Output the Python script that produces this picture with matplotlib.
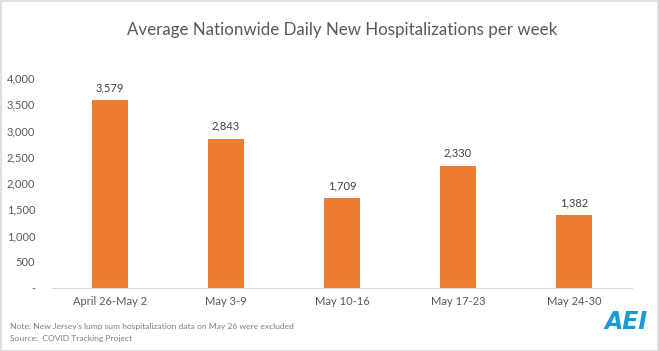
import matplotlib.pyplot as plt
from matplotlib.patches import Rectangle
from matplotlib.ticker import FuncFormatter

# 数据
weeks = ['April 26-May 2', 'May 3-9', 'May 10-16', 'May 17-23', 'May 24-30']
hospitalizations = [3579, 2843, 1709, 2330, 1382]
y_ticks = [0, 500, 1000, 1500, 2000, 2500, 3000, 3500, 4000]

plt.rcParams['font.family'] = ['Lato', 'DejaVu Sans']

W, H = 659, 351
fig = plt.figure(figsize=(W / 100, H / 100), dpi=100)

# 坐标轴位置（像素换算成比例）
left, right, bottom, top = 52, 632, 288, 78
ax = fig.add_axes([left / W, 1 - bottom / H, (right - left) / W, (bottom - top) / H])

x = range(len(weeks))
bars = ax.bar(x, hospitalizations, width=0.31, color='#ED7D31')

for xi, v in zip(x, hospitalizations):
    ax.annotate(f'{v:,}', (xi, v), xytext=(0, 5), textcoords='offset points',
                ha='center', va='bottom', fontsize=8, color='#404040')

ax.set_xlim(-0.5, len(weeks) - 0.5)
ax.set_ylim(0, 4000)
ax.set_yticks(y_ticks)
ax.yaxis.set_major_formatter(FuncFormatter(lambda v, p: '-' if v == 0 else f'{int(v):,}'))
ax.set_xticks(list(x))
ax.set_xticklabels(weeks)
ax.tick_params(axis='both', length=0, labelsize=8, colors='#595959')
ax.tick_params(axis='y', pad=12)
ax.tick_params(axis='x', pad=6)

for s in ['top', 'right', 'left']:
    ax.spines[s].set_visible(False)
ax.spines['bottom'].set_color('#D9D9D9')

fig.text(342 / W, 1 - 30 / H, 'Average Nationwide Daily New Hospitalizations per week',
         ha='center', va='center', fontsize=12.2, color='#595959')

fig.text(10 / W, 1 - 326 / H,
         "Note: New Jersey's lump sum hospitalization data on May 26 were excluded",
         ha='left', va='center', fontsize=6.1, color='#7F7F7F')
fig.text(10 / W, 1 - 338 / H, 'Source:  COVID Tracking Project',
         ha='left', va='center', fontsize=6.1, color='#7F7F7F')

# AEI 标志
fig.text(626 / W, 1 - 322 / H, 'AEI', ha='center', va='center', fontsize=17,
         fontweight='bold', style='italic', color='#1C9AD6', family='DejaVu Sans')

# 外框
fig.patches.append(Rectangle((0.5 / W, 0.5 / H), 1 - 1.5 / W, 1 - 1.5 / H,
                             transform=fig.transFigure, fill=False,
                             edgecolor='#D9D9D9', linewidth=1.2))

plt.savefig('out.png', dpi=100)
